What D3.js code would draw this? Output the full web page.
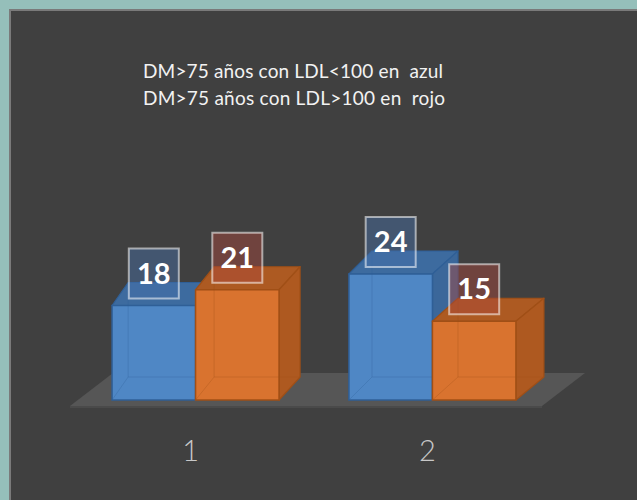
<!DOCTYPE html>
<html>
<head>
<meta charset="utf-8">
<script src="https://cdn.jsdelivr.net/npm/d3@7"></script>
<style>
  html, body { margin: 0; padding: 0; background: #95bfba; }
  svg { display: block; }
</style>
</head>
<body>
<svg id="chart" width="637" height="500"></svg>
<script>
// ---- data ----
const categories = ["1", "2"];
const seriesNames = ["azul", "rojo"];
const azulValues = [18, 24];
const rojoValues = [21, 15];
const titleLines = ["DM>75 años con LDL<100 en  azul", "DM>75 años con LDL>100 en  rojo"];

const svg = d3.select("#chart");
const W = 637, H = 500;

// frame
svg.append("rect").attr("x", 0).attr("y", 0).attr("width", W).attr("height", H).attr("fill", "#95bfba");
svg.append("rect").attr("x", 10).attr("y", 10).attr("width", W).attr("height", H)
  .attr("fill", "#404040").attr("stroke", "#7a7a7a").attr("stroke-width", 2);

// scales
const x0 = d3.scaleBand().domain(categories).range([41, 587]).paddingInner(0.295).paddingOuter(0.3);
const x1 = d3.scaleBand().domain(seriesNames).range([0, x0.bandwidth()]).padding(0);
const y = d3.scaleLinear().domain([0, 24]).range([400, 274]);

const colors = {
  azul: { front: "#4f87c5", top: "#3d6b9f", side: "#3b679a", edge: "#2f5f97", box: "rgba(70,112,170,0.45)" },
  rojo: { front: "#d9732f", top: "#ad5a22", side: "#ae5920", edge: "#a04f16", box: "rgba(170,70,60,0.45)" }
};

// depth (oblique with slight perspective)
const DY = -23;
const depthX = xx => 21 + 0.0295 * (xx - 279);

// floor
const baseY = y(0);
const floorL = x0.range()[0] + 29, floorR = x0.range()[1] - 45;
const fFront = baseY + 6, fDY = -33, fDX = 43;
svg.append("polygon")
  .attr("points", [[floorL, fFront], [floorR, fFront], [floorR + fDX, fFront + fDY], [floorL + fDX, fFront + fDY]].map(p => p.join(",")).join(" "))
  .attr("fill", "#565656");
svg.append("polygon")
  .attr("points", [[floorL, fFront], [floorR, fFront], [floorR, fFront + 2], [floorL, fFront + 2]].map(p => p.join(",")).join(" "))
  .attr("fill", "#4a4a4a");

// bars
const bars = [];
categories.forEach((c, i) => {
  bars.push({ cat: c, s: "azul", v: azulValues[i] });
  bars.push({ cat: c, s: "rojo", v: rojoValues[i] });
});

const g = svg.append("g");
const pts = a => a.map(p => p.join(",")).join(" ");
bars.forEach(b => {
  const xa = x0(b.cat) + x1(b.s), xb = xa + x1.bandwidth();
  const yt = y(b.v), yb = y(0);
  const da = depthX(xa), db = depthX(xb);
  const c = colors[b.s];
  const bg = g.append("g");
  // top
  bg.append("polygon").attr("points", pts([[xa, yt], [xb, yt], [xb + db, yt + DY], [xa + da, yt + DY]]))
    .attr("fill", c.top).attr("stroke", c.edge).attr("stroke-width", 1.2).attr("stroke-linejoin", "round");
  // side
  bg.append("polygon").attr("points", pts([[xb, yt], [xb + db, yt + DY], [xb + db, yb + DY], [xb, yb]]))
    .attr("fill", c.side).attr("stroke", c.edge).attr("stroke-width", 1.2).attr("stroke-linejoin", "round");
  // front
  bg.append("rect").attr("x", xa).attr("y", yt).attr("width", xb - xa).attr("height", yb - yt)
    .attr("fill", c.front).attr("stroke", c.edge).attr("stroke-width", 1.5);
  // faint hidden edges (translucent look)
  bg.append("path")
    .attr("d", `M${xa + da},${yt + DY}L${xa + da},${yb + DY}L${xb + db},${yb + DY}M${xa},${yb}L${xa + da},${yb + DY}`)
    .attr("fill", "none").attr("stroke", c.edge).attr("stroke-opacity", 0.3).attr("stroke-width", 1);
});

// value labels
bars.forEach(b => {
  const cx = x0(b.cat) + x1(b.s) + x1.bandwidth() / 2;
  const cy = y(b.v) - 32;
  const c = colors[b.s];
  svg.append("rect").attr("x", cx - 25).attr("y", cy - 25).attr("width", 50).attr("height", 50)
    .attr("fill", c.box).attr("stroke", "rgba(255,255,255,0.55)").attr("stroke-width", 2);
  svg.append("text").attr("x", cx).attr("y", cy + 10).attr("text-anchor", "middle")
    .attr("font-family", "Lato, 'Open Sans', sans-serif").attr("font-weight", 700)
    .attr("font-size", 29).attr("fill", "#ffffff").text(b.v);
});

// category labels
categories.forEach(c => {
  svg.append("text").attr("x", x0(c) + x0.bandwidth() / 2 - 5).attr("y", 461)
    .attr("text-anchor", "middle").attr("font-family", "Lato, 'Open Sans', sans-serif")
    .attr("font-weight", 300)
    .attr("font-size", 29).attr("fill", "#c8c8c8").text(c);
});

// title text
titleLines.forEach((t, i) => {
  svg.append("text").attr("x", 143).attr("y", 78 + i * 27)
    .attr("font-family", "Lato, 'Open Sans', sans-serif").attr("font-size", 19)
    .attr("fill", "#f2f2f2").style("white-space", "pre")
    .attr("textLength", i === 0 ? 300 : 302).attr("lengthAdjust", "spacing").text(t);
});
</script>
</body>
</html>
